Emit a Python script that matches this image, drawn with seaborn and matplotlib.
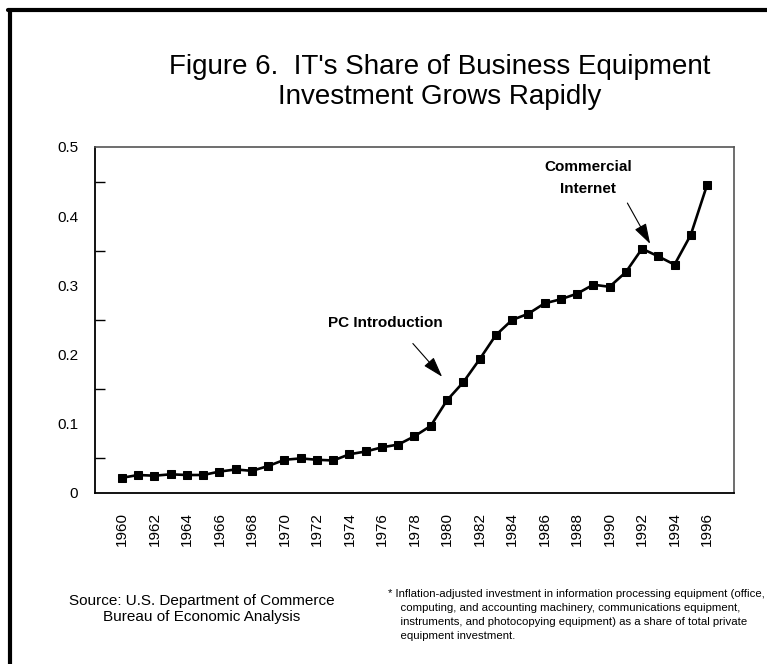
import matplotlib
matplotlib.use("Agg")
import matplotlib.pyplot as plt
import matplotlib.lines as mlines
import seaborn as sns
import pandas as pd

# 연도별 IT 장비 투자 비중
years = list(range(1960, 1997))
it_share = [0.022, 0.026, 0.025, 0.027, 0.026, 0.026, 0.031, 0.034, 0.032, 0.039,
            0.048, 0.050, 0.048, 0.047, 0.056, 0.060, 0.066, 0.070, 0.082, 0.097,
            0.134, 0.160, 0.193, 0.228, 0.250, 0.259, 0.274, 0.280, 0.288, 0.301,
            0.298, 0.319, 0.353, 0.342, 0.330, 0.373, 0.445]
x_ticks = list(range(1960, 1997, 2))
y_ticks = [0, 0.1, 0.2, 0.3, 0.4, 0.5]
y_labels = ["0", "0.1", "0.2", "0.3", "0.4", "0.5"]

title_1 = "Figure 6.  IT's Share of Business Equipment"
title_2 = "Investment Grows Rapidly"
source = "Source: U.S. Department of Commerce\nBureau of Economic Analysis"
footnote = ("* Inflation-adjusted investment in information processing equipment (office,\n"
            "    computing, and accounting machinery, communications equipment,\n"
            "    instruments, and photocopying equipment) as a share of total private\n"
            "    equipment investment.")

df = pd.DataFrame({"year": years, "share": it_share})

sns.set_style("white")
plt.rcParams["font.family"] = ["Liberation Sans", "DejaVu Sans"]
plt.rcParams["text.color"] = "black"
plt.rcParams["xtick.color"] = "black"
plt.rcParams["ytick.color"] = "black"

W, H = 767, 664
fig = plt.figure(figsize=(W / 100, H / 100), dpi=100)
ax = fig.add_axes([95 / W, 1 - 493 / H, (734 - 95) / W, (493 - 147) / H])

sns.lineplot(data=df, x="year", y="share", ax=ax, color="black", linewidth=1.9,
             marker="s", markersize=5.5, markeredgecolor="black", markerfacecolor="black")

ax.set_xlim(1958.34, 1997.66)
ax.set_ylim(0, 0.5)
ax.set_xlabel("")
ax.set_ylabel("")

# 눈금 설정 (안쪽 방향)
ax.set_xticks(x_ticks)
ax.set_xticklabels([str(y) for y in x_ticks], rotation=90, fontsize=11)
ax.set_yticks(y_ticks)
ax.set_yticklabels(y_labels, fontsize=11)
ax.set_yticks([0.05, 0.15, 0.25, 0.35, 0.45], minor=True)
ax.tick_params(axis="x", direction="in", length=13, width=1, pad=14)
ax.tick_params(axis="y", which="major", direction="in", length=11, width=1, pad=12)
ax.tick_params(axis="y", which="minor", direction="in", length=7, width=1, left=True)

for side in ["left", "bottom"]:
    ax.spines[side].set_color("black")
    ax.spines[side].set_linewidth(1.3)
for side in ["top", "right"]:
    ax.spines[side].set_color("#555555")
    ax.spines[side].set_linewidth(1.2)

# 주석 (텍스트와 화살표)
arrow = dict(arrowstyle="-|>,head_length=0.7,head_width=0.22", color="black", lw=0.8,
             mutation_scale=18, shrinkA=0, shrinkB=0)
ax.text(1976.2, 0.246, "PC Introduction", ha="center", va="center", fontsize=11,
        fontweight="bold")
ax.annotate("", xy=(1979.7, 0.168), xytext=(1977.9, 0.216), arrowprops=arrow)
ax.text(1988.7, 0.455, "Commercial\nInternet", ha="center", va="center", fontsize=11,
        fontweight="bold", linespacing=1.75)
ax.annotate("", xy=(1992.5, 0.360), xytext=(1991.1, 0.419), arrowprops=arrow)

fig.text(440 / W, 1 - 74 / H, title_1, ha="center", va="baseline", fontsize=20)
fig.text(440 / W, 1 - 104 / H, title_2, ha="center", va="baseline", fontsize=20)
fig.text(202 / W, 1 - 609 / H, source, ha="center", va="center", fontsize=11, linespacing=1.25)
fig.text(388 / W, 1 - 615 / H, footnote, ha="left", va="center", fontsize=8.2,
         linespacing=1.49)

# 그림 테두리 (왼쪽, 위쪽)
fig.add_artist(mlines.Line2D([9.5 / W, 9.5 / W], [0, 1 - 9.5 / H], transform=fig.transFigure,
                             color="black", linewidth=3))
fig.add_artist(mlines.Line2D([8 / W, 1], [1 - 9.5 / H, 1 - 9.5 / H], transform=fig.transFigure,
                             color="black", linewidth=3))

fig.savefig("out.png", dpi=100)
plt.close(fig)
